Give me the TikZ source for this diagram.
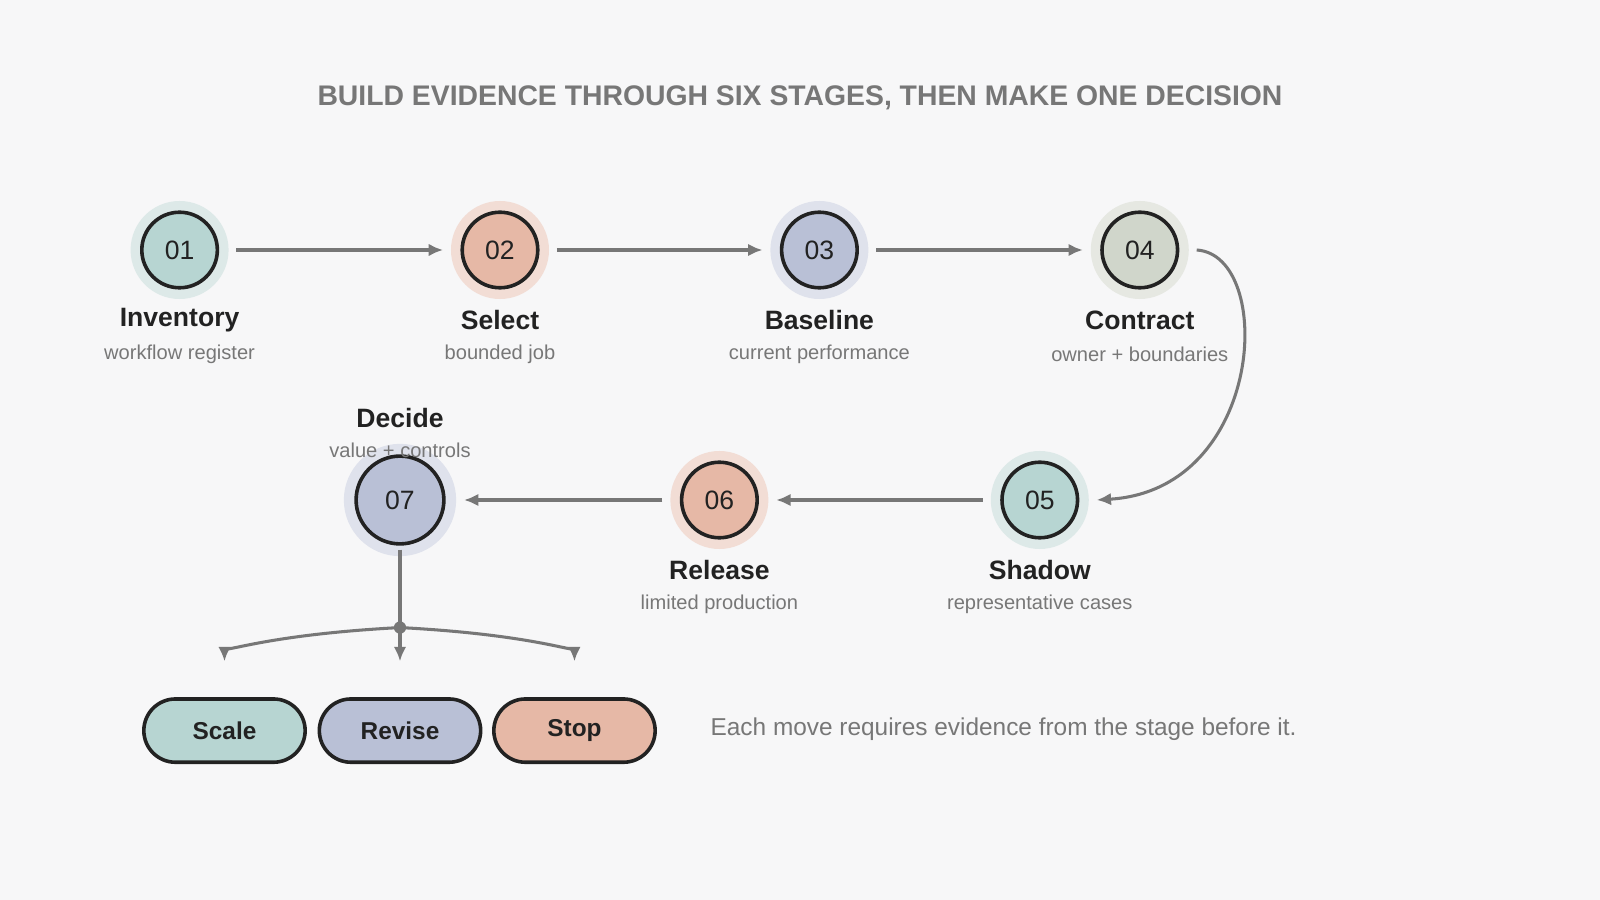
\documentclass[tikz,border=0pt]{standalone}
\usepackage{fontspec}
\setmainfont{Liberation Sans}
\usetikzlibrary{arrows.meta, positioning}
\definecolor{bgcol}{HTML}{F7F7F8}
\definecolor{ink}{HTML}{222222}
\definecolor{muted}{HTML}{777777}
\definecolor{tealfill}{HTML}{B7D5D2}
\definecolor{tealhalo}{HTML}{DDE9E8}
\definecolor{salmonfill}{HTML}{E6B8A6}
\definecolor{salmonhalo}{HTML}{F2DDD5}
\definecolor{bluefill}{HTML}{B9C0D6}
\definecolor{bluehalo}{HTML}{DFE2EC}
\definecolor{sagefill}{HTML}{D0D6CB}
\definecolor{sagehalo}{HTML}{E6E8E2}
\tikzset{
  halo/.style={circle, fill=#1, draw=none, minimum size=0.96cm, inner sep=0pt},
  stage/.style={circle, fill=#1, draw=ink, line width=1pt, minimum size=0.74cm, inner sep=0pt, font=\fontsize{7.4}{8}\selectfont, text=ink},
  stagename/.style={font=\bfseries\fontsize{7.4}{8}\selectfont, text=ink},
  stagesub/.style={font=\fontsize{5.6}{6}\selectfont, text=muted},
  flow/.style={-{Latex[length=4pt,width=3.5pt]}, draw=muted, line width=0.85pt},
  pill/.style={rounded corners=0.31cm, fill=#1, draw=ink, line width=1pt, minimum width=1.58cm, minimum height=0.62cm, font=\bfseries\fontsize{6.8}{8}\selectfont, text=ink}
}
\begin{document}
\begin{tikzpicture}[x=0.01cm, y=-0.01cm]
\useasboundingbox[fill=bgcol] (0,0) rectangle (1568,882);

\node[font=\bfseries\fontsize{7.9}{9}\selectfont, text=muted] (title) at (784,96) {BUILD EVIDENCE THROUGH SIX STAGES, THEN MAKE ONE DECISION};

% top row
\node[halo=tealhalo] (h01) at (176,245) {};
\node[stage=tealfill] (s01) at (176,245) {01};
\node[halo=salmonhalo] (h02) at (490,245) {};
\node[stage=salmonfill] (s02) at (490,245) {02};
\node[halo=bluehalo] (h03) at (803,245) {};
\node[stage=bluefill] (s03) at (803,245) {03};
\node[halo=sagehalo] (h04) at (1117,245) {};
\node[stage=sagefill] (s04) at (1117,245) {04};

% bottom row
\node[halo=tealhalo] (h05) at (1019,490) {};
\node[stage=tealfill] (s05) at (1019,490) {05};
\node[halo=salmonhalo] (h06) at (705,490) {};
\node[stage=salmonfill] (s06) at (705,490) {06};
\node[halo=bluehalo, minimum size=1.1cm] (h07) at (392,490) {};
\node[stage=bluefill, minimum size=0.86cm] (s07) at (392,490) {07};

% labels
\node[stagename] (n01) at (176,314) {Inventory};
\node[stagesub] (d01) at (176,347) {workflow register};
\node[stagename] (n02) at (490,314) {Select};
\node[stagesub] (d02) at (490,347) {bounded job};
\node[stagename] (n03) at (803,314) {Baseline};
\node[stagesub] (d03) at (803,347) {current performance};
\node[stagename] (n04) at (1117,314) {Contract};
\node[stagesub] (d04) at (1117,347) {owner + boundaries};
\node[stagename] (n05) at (1019,559) {Shadow};
\node[stagesub] (d05) at (1019,592) {representative cases};
\node[stagename] (n06) at (705,559) {Release};
\node[stagesub] (d06) at (705,592) {limited production};
\node[stagename] (n07) at (392,410) {Decide};
\node[stagesub] (d07) at (392,441) {value + controls};

% stage arrows
\draw[flow] ([xshift=2]h01.east) -- ([xshift=-2]h02.west);
\draw[flow] ([xshift=2]h02.east) -- ([xshift=-2]h03.west);
\draw[flow] ([xshift=2]h03.east) -- ([xshift=-2]h04.west);
\draw[flow] ([xshift=2]h04.east) .. controls (1250,250) and (1240,480) .. ([xshift=2]h05.east);
\draw[flow] ([xshift=-2]h05.west) -- ([xshift=2]h06.east);
\draw[flow] ([xshift=-2]h06.west) -- ([xshift=2]h07.east);

% outcomes
\node[pill=tealfill] (scale) at (220,716) {Scale};
\node[pill=bluefill] (revise) at (392,716) {Revise};
\node[pill=salmonfill] (stop) at (563,716) {Stop};
\coordinate (fork) at (392,615);
\fill[muted] (fork) circle (0.06cm);
\draw[muted, line width=0.85pt] ([yshift=2]h07.south) -- (fork);
\draw[flow, shorten >=10] (fork) .. controls (260,622) and (220,640) .. (scale.north);
\draw[flow, shorten >=10] (fork) -- (revise.north);
\draw[flow, shorten >=10] (fork) .. controls (524,622) and (563,640) .. (stop.north);

\node[anchor=west, font=\fontsize{6.8}{8}\selectfont, text=muted] (note) at (684,715) {Each move requires evidence from the stage before it.};
\end{tikzpicture}
\end{document}
